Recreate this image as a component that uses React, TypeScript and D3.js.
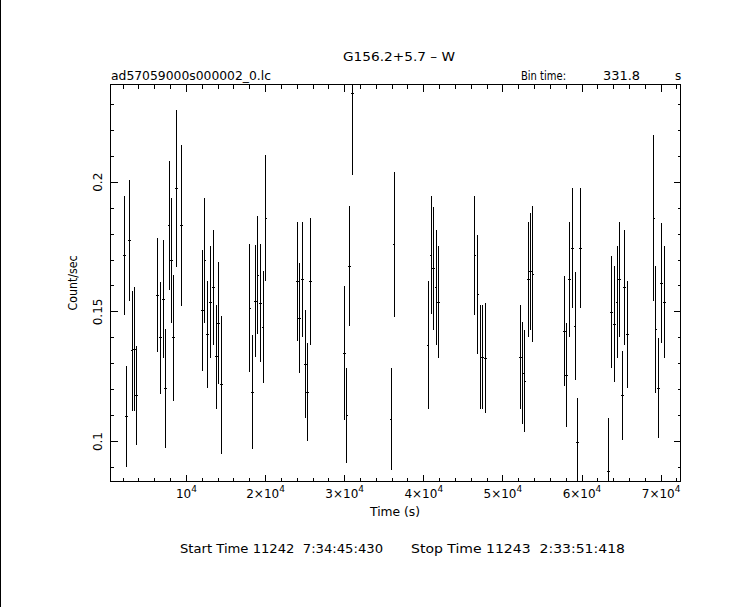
import React from 'react';
import * as d3 from 'd3';

// ---- data ----
const times = [
  2131, 2459, 2800, 3140, 3468, 3720,
  6368, 6747, 7087, 7377, 7806, 8096, 8386, 8764, 9395,
  12043, 12345, 12673, 13052, 13392, 13770, 14060, 14439,
  18020, 18348, 18726, 19029, 19357, 19697, 20038,
  24022, 24275, 24653, 25031, 25283, 25662,
  29949, 30290, 30630, 30958, 35876, 36254,
  40541, 40920, 41222, 41550, 41891,
  46468, 46846, 47225, 47477, 47817,
  52193, 52521, 52773, 53202, 53454, 53782,
  57817, 58069, 58448, 58788, 59129, 59456, 59797,
  63366, 63744, 64084, 64425, 64753, 65131, 65383, 65761,
  69090, 69343, 69670, 70049, 70427,
];
const rates = [
  0.1719, 0.1097, 0.1776, 0.1350, 0.1356, 0.1177,
  0.1564, 0.1400, 0.1549, 0.1206, 0.1833, 0.1699, 0.1400, 0.1976, 0.1833,
  0.1506, 0.1699, 0.1414, 0.1538, 0.1595, 0.1327, 0.1456, 0.1219,
  0.1514, 0.1191, 0.1542, 0.1642, 0.1533, 0.1441, 0.1862,
  0.1618, 0.1476, 0.1626, 0.1299, 0.1191, 0.1618,
  0.1341, 0.1099, 0.1677, 0.2341, 0.1087, 0.1760,
  0.1372, 0.1719, 0.1668, 0.1595, 0.1538,
  0.1718, 0.1568, 0.1326, 0.1326, 0.1322,
  0.1326, 0.1264, 0.1233, 0.1626, 0.1656, 0.1646,
  0.1426, 0.1256, 0.1626, 0.1745, 0.1445, 0.0995, 0.1745,
  0.0883, 0.1499, 0.1453, 0.1538, 0.1626, 0.1177, 0.1595, 0.1414,
  0.1862, 0.1433, 0.1206, 0.1610, 0.1538,
];
const errors = [
  0.0229, 0.0195, 0.0232, 0.0232, 0.0239, 0.0190,
  0.0220, 0.0217, 0.0228, 0.0230, 0.0248, 0.0240, 0.0243, 0.0304, 0.0310,
  0.0232, 0.0240, 0.0206, 0.0217, 0.0221, 0.0201, 0.0235, 0.0267,
  0.0246, 0.0219, 0.0217, 0.0229, 0.0228, 0.0217, 0.0244,
  0.0230, 0.0213, 0.0222, 0.0209, 0.0190, 0.0246,
  0.0259, 0.0183, 0.0232, 0.0313, 0.0197, 0.0278,
  0.0247, 0.0228, 0.0238, 0.0221, 0.0217,
  0.0228, 0.0230, 0.0202, 0.0202, 0.0211,
  0.0202, 0.0197, 0.0196, 0.0222, 0.0224, 0.0261,
  0.0213, 0.0200, 0.0222, 0.0231, 0.0208, 0.0174, 0.0231,
  0.0208, 0.0217, 0.0224, 0.0217, 0.0222, 0.0172, 0.0221, 0.0206,
  0.0320, 0.0244, 0.0193, 0.0231, 0.0217,
];
const binTime = 331.8;

const xMajorTicks = [10000, 20000, 30000, 40000, 50000, 60000, 70000];
const xTickMantissa = ['', '2', '3', '4', '5', '6', '7'];
const xMinorTicks = d3.range(2000, 72001, 2000);
const yMajorTicks = [0.1, 0.15, 0.2];
const yTickLabels = ['0.1', '0.15', '0.2'];
const yMinorTicks = d3.range(9, 24).map((d) => d / 100);

const xDomain = [400, 72450];
const yDomain = [0.0846, 0.2377];

const titleText = 'G156.2+5.7 \u2013 W';
const fileText = 'ad57059000s000002_0.lc';
const binLabel = 'Bin time:';
const binValue = '331.8';
const binUnit = 's';
const xLabel = 'Time (s)';
const yLabel = 'Count/sec';
const startText = 'Start Time 11242  7:34:45:430';
const stopText = 'Stop Time 11243  2:33:51:418';

export default function App() {
  const W = 743;
  const H = 607;
  const left = 110.5;
  const right = 680.5;
  const top = 84.5;
  const bottom = 481.5;

  const x = d3.scaleLinear().domain(xDomain).range([left, right]);
  const y = d3.scaleLinear().domain(yDomain).range([bottom, top]);

  const font = "'DejaVu Sans', 'Liberation Sans', Arial, sans-serif";
  const fs = 12;

  const points = times.map((t, i) => ({ t, v: rates[i], e: errors[i] }));

  return (
    <svg
      width={W}
      height={H}
      style={{ position: 'absolute', left: 0, top: 0, background: '#fff' }}
      fontFamily={font}
    >
      <rect x={0} y={0} width={W} height={H} fill="#fff" />
      <line x1={0.5} x2={0.5} y1={0} y2={H} stroke="#000" />
      <defs>
        <clipPath id="plotclip">
          <rect x={left} y={top} width={right - left} height={bottom - top} />
        </clipPath>
      </defs>

      {/* frame */}
      <rect x={left} y={top} width={right - left} height={bottom - top} fill="none" stroke="#000" strokeWidth={1} shapeRendering="crispEdges" />

      {/* ticks */}
      <g stroke="#000" shapeRendering="crispEdges">
        {xMinorTicks.map((t) => (
          <g key={'xm' + t}>
            <line x1={x(t)} x2={x(t)} y1={bottom} y2={bottom - 4} />
            <line x1={x(t)} x2={x(t)} y1={top} y2={top + 4} />
          </g>
        ))}
        {xMajorTicks.map((t) => (
          <g key={'xM' + t}>
            <line x1={x(t)} x2={x(t)} y1={bottom} y2={bottom - 7} />
            <line x1={x(t)} x2={x(t)} y1={top} y2={top + 7} />
          </g>
        ))}
        {yMinorTicks.map((v) => (
          <g key={'ym' + v}>
            <line x1={left} x2={left + 3} y1={y(v)} y2={y(v)} />
            <line x1={right} x2={right - 3} y1={y(v)} y2={y(v)} />
          </g>
        ))}
        {yMajorTicks.map((v) => (
          <g key={'yM' + v}>
            <line x1={left} x2={left + 7} y1={y(v)} y2={y(v)} />
            <line x1={right} x2={right - 7} y1={y(v)} y2={y(v)} />
          </g>
        ))}
      </g>

      {/* x tick labels */}
      {xMajorTicks.map((t, i) => (
        <text key={'xl' + t} x={x(t)} y={498} textAnchor="middle" fontSize={fs}>
          {xTickMantissa[i] ? xTickMantissa[i] + '\u00d710' : '10'}
          <tspan dy={-6} fontSize={9}>4</tspan>
        </text>
      ))}

      {/* y tick labels */}
      {yMajorTicks.map((v, i) => (
        <text key={'yl' + v} transform={`translate(101.5,${y(v)}) rotate(-90)`} textAnchor="middle" fontSize={fs}>
          {yTickLabels[i]}
        </text>
      ))}

      {/* axis labels */}
      <text x={395} y={516} textAnchor="middle" fontSize={fs} textLength={50} lengthAdjust="spacingAndGlyphs">{xLabel}</text>
      <text transform={`translate(76.5,${(top + bottom) / 2}) rotate(-90)`} textAnchor="middle" fontSize={fs} textLength={55} lengthAdjust="spacingAndGlyphs">{yLabel}</text>

      {/* titles */}
      <text x={399} y={60.5} textAnchor="middle" fontSize={fs} textLength={112} lengthAdjust="spacingAndGlyphs">{titleText}</text>
      <text x={111} y={79.5} fontSize={fs} textLength={160} lengthAdjust="spacingAndGlyphs">{fileText}</text>
      <text x={521} y={79.5} fontSize={fs} textLength={45} lengthAdjust="spacingAndGlyphs">{binLabel}</text>
      <text x={603} y={79.5} fontSize={fs} textLength={37} lengthAdjust="spacingAndGlyphs">{binValue}</text>
      <text x={675} y={79.5} fontSize={fs}>{binUnit}</text>

      {/* start / stop */}
      <text x={180} y={553} fontSize={fs} textLength={203} lengthAdjust="spacingAndGlyphs" style={{ whiteSpace: 'pre' }}>{startText}</text>
      <text x={411} y={553} fontSize={fs} textLength={214} lengthAdjust="spacingAndGlyphs" style={{ whiteSpace: 'pre' }}>{stopText}</text>

      {/* error bars */}
      <g clipPath="url(#plotclip)" stroke="#000" strokeWidth={1} shapeRendering="crispEdges">
        {points.map((p, i) => (
          <g key={'p' + i}>
            <line x1={x(p.t)} x2={x(p.t)} y1={y(p.v - p.e)} y2={y(p.v + p.e)} />
            <line x1={x(p.t - binTime / 2)} x2={x(p.t + binTime / 2)} y1={y(p.v)} y2={y(p.v)} />
          </g>
        ))}
      </g>
    </svg>
  );
}
